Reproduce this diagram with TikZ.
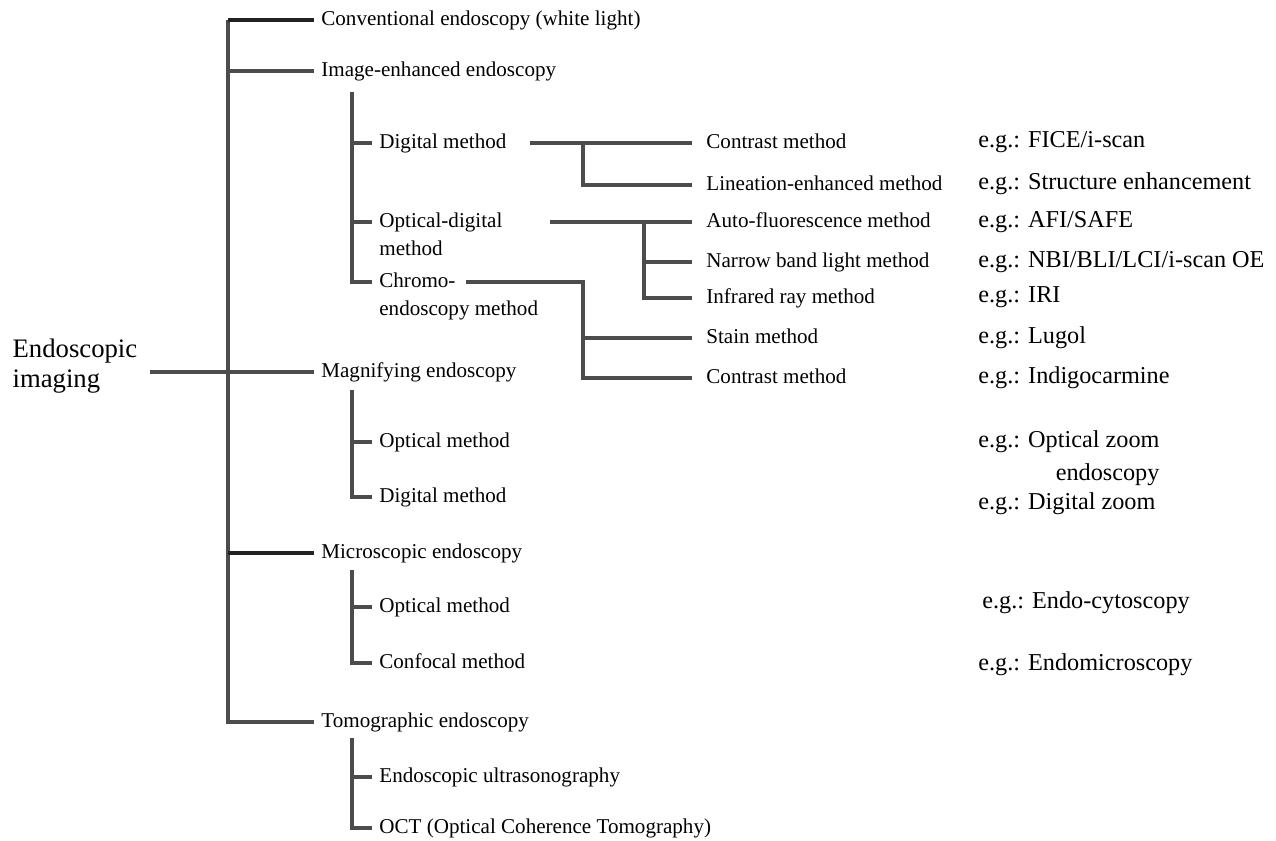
\documentclass[tikz,border=0pt]{standalone}
\usepackage{fontspec}
\setmainfont{Liberation Serif}
\usetikzlibrary{positioning}
\definecolor{LineGray}{HTML}{4C4C4C}
\definecolor{DarkLine}{HTML}{222222}

\tikzset{
    branch/.style={LineGray, line width=1.8pt},
    heavy/.style={DarkLine, line width=2.2pt},
    lvone/.style={anchor=west, inner xsep=4pt, inner ysep=1pt,
        font=\fontsize{12}{16.4}\selectfont, text height=8.4pt, text depth=2.6pt},
    lvtwo/.style={lvone},
    lvthree/.style={lvone, inner xsep=8pt},
    example/.style={anchor=west, inner sep=0pt, align=right,
        font=\fontsize{13.8}{18.7}\selectfont},
}

\begin{document}
\begin{tikzpicture}[x=0.02cm, y=-0.02cm]

    \useasboundingbox (0,0) rectangle (1276,840);

    \coordinate (spine) at (228,0);
    \coordinate (subx) at (352,0);
    \coordinate (digknot) at (583,0);
    \coordinate (optknot) at (644,0);

    % root and first level
    \node[font=\fontsize{15.2}{17}\selectfont, align=left, anchor=west, inner xsep=7pt] (root) at (0,366) {Endoscopic\\imaging};
    \node[lvone] (conv) at (314,20) {Conventional endoscopy (white light)};
    \node[lvone] (imgenh) at (314,71) {Image-enhanced endoscopy};
    \node[lvone] (magn) at (314,372) {Magnifying endoscopy};
    \node[lvone] (micro) at (314,553) {Microscopic endoscopy};
    \node[lvone] (tomo) at (314,722) {Tomographic endoscopy};

    % second level
    \node[lvtwo] (dig) at (372,143) {Digital method};
    \node[lvtwo] (opt) at (372,222) {Optical-digital};
    \node[lvtwo, below=16.4pt of opt.base west, anchor=base west] (optb) {method};
    \node[lvtwo] (chr) at (372,282) {Chromo-};
    \node[lvtwo, below=16.4pt of chr.base west, anchor=base west] (chrb) {endoscopy method};
    \node[lvtwo] (magopt) at (372,442) {Optical method};
    \node[lvtwo] (magdig) at (372,497) {Digital method};
    \node[lvtwo] (micopt) at (372,607) {Optical method};
    \node[lvtwo] (miccon) at (372,663) {Confocal method};
    \node[lvtwo] (eus) at (372,777) {Endoscopic ultrasonography};
    \node[lvtwo] (oct) at (372,828) {OCT (Optical Coherence Tomography)};

    % third level
    \foreach \name/\y/\txt in {con1/143/Contrast method, lin/185/Lineation-enhanced method,
        auto/222/Auto-fluorescence method, narrow/262/Narrow band light method,
        infra/298/Infrared ray method, stain/338/Stain method, con2/378/Contrast method}
        \node[lvthree] (\name) at (692,\y) {\txt};

    % examples
    \foreach \y/\txt [count=\i] in {142/{FICE/i-scan}, 184/{Structure enhancement},
        222/{AFI/SAFE}, 262/{NBI/BLI/LCI/i-scan OE}, 297/{IRI}, 338/{Lugol},
        378/{Indigocarmine}, 504/{Digital zoom}, 665/{Endomicroscopy}}
        \node[example] (eg\i) at (978,\y) {e.g.: \txt};
    \node[example] (egzoom) at (978,458) {e.g.: Optical zoom\\endoscopy};
    \node[example] (egcyto) at (982,603) {e.g.: Endo-cytoscopy};

    % main spine
    \draw[branch] (conv.west -| spine) |- (tomo.west);
    \draw[heavy] (conv.west -| spine) -- (conv.west);
    \draw[branch] (imgenh.west -| spine) -- (imgenh.west);
    \draw[branch] (root.east |- magn.west) -- (magn.west);
    \draw[heavy] (micro.west -| spine) -- (micro.west);

    % sub trees
    \draw[branch] (imgenh.west -| subx) ++(0,21) |- (chr.west);
    \draw[branch] (dig.west -| subx) -- (dig.west);
    \draw[branch] (opt.west -| subx) -- (opt.west);
    \draw[branch] (magn.west -| subx) ++(0,18) |- (magdig.west);
    \draw[branch] (magopt.west -| subx) -- (magopt.west);
    \draw[branch] (micro.west -| subx) ++(0,17) |- (miccon.west);
    \draw[branch] (micopt.west -| subx) -- (micopt.west);
    \draw[branch] (tomo.west -| subx) ++(0,16) |- (oct.west);
    \draw[branch] (eus.west -| subx) -- (eus.west);

    % method branches
    \draw[branch] ([xshift=9pt]dig.east) -- (con1.west);
    \draw[branch] (con1.west -| digknot) |- (lin.west);
    \draw[branch] ([xshift=23pt]opt.east) -- (auto.west);
    \draw[branch] (auto.west -| optknot) |- (infra.west);
    \draw[branch] (narrow.west -| optknot) -- (narrow.west);
    \draw[branch] ([xshift=2pt]chr.east) -| (con2.west -| digknot) -- (con2.west);
    \draw[branch] (stain.west -| digknot) -- (stain.west);
\end{tikzpicture}
\end{document}
